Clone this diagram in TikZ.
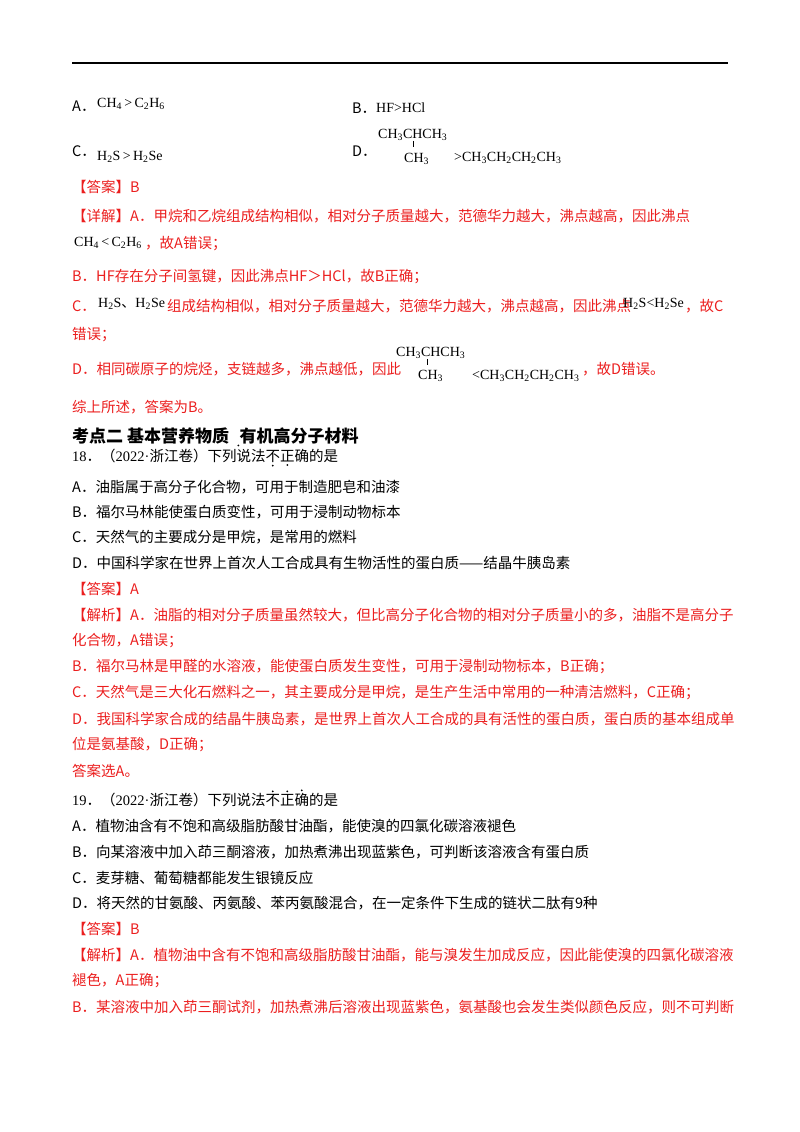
\documentclass[tikz,border=0pt]{standalone}
\usepackage{fontspec}
\setmainfont{Noto Sans CJK SC}
\newfontfamily\lf{Liberation Serif}
\newfontfamily\cj{Noto Sans CJK SC}
\newcommand{\ssb}[1]{\textsubscript{#1}}
\newcommand{\emdot}[1]{\tikz[baseline=(w.base)]{\node[inner sep=0pt](w){#1};\fill ([yshift=-2.5pt]w.south) circle (1pt);}}
\newcommand{\updot}[1]{\tikz[baseline=(w.base)]{\node[inner sep=0pt](w){#1};\fill ([yshift=2.5pt]w.north) circle (1pt);}}
\definecolor{ansred}{RGB}{235,30,30}
\begin{document}
\begin{tikzpicture}[x=1pt,y=-1pt,
  t/.style={anchor=west,inner sep=0pt,font=\fontsize{14.5}{16}\selectfont},
  r/.style={t,text=ansred},
  f/.style={anchor=west,inner sep=0pt,font=\lf\fontsize{14}{16}\selectfont}]
\useasboundingbox (0,0) rectangle (800,1132);
\draw[line width=1.2pt] (72,63) -- (728,63);
% options
\node[t] (a) at (72,106) {A．};
\node[f] (af) at (97,104) {CH\ssb{4}\,>\,C\ssb{2}H\ssb{6}};
\node[t] (b) at (352,108) {B．};
\node[f] (bf) at (376,108) {HF>HCl};
\node[t] (c) at (72,151) {C．};
\node[f] (cf) at (97,157) {H\ssb{2}S\,>\,H\ssb{2}Se};
\node[t] (d) at (352,151) {D．};
\node[f] (d1) at (378,135) {CH\ssb{3}CHCH\ssb{3}};
\node[f] (d2) at (404,159) {CH\ssb{3}};
\draw (d1.south -| d2.north) ++(-3.5,0) -- ++(0,6);
\node[f] (d3) at (454,158) {>CH\ssb{3}CH\ssb{2}CH\ssb{2}CH\ssb{3}};
% answer
\node[r] (ans1) at (72,187) {【答案】B};
\node[r] (x1) at (72,216) {【详解】A．甲烷和乙烷组成结构相似，相对分子质量越大，范德华力越大，沸点越高，因此沸点};
\node[f] (x1f) at (74,243) {CH\ssb{4}\,<\,C\ssb{2}H\ssb{6}};
\node[r] (x1b) at (145,244) {，故A错误；};
\node[r] (x2) at (72,277) {B．HF存在分子间氢键，因此沸点HF＞HCl，故B正确；};
\node[r] (x3a) at (72,306) {C．};
\node[f] (x3f) at (98,304) {H\ssb{2}S{\cj 、}H\ssb{2}Se};
\node[r] (x3b) at (167,306) {组成结构相似，相对分子质量越大，范德华力越大，沸点越高，因此沸点};
\node[f] (x3g) at (623,304) {H\ssb{2}S<H\ssb{2}Se};
\node[r] (x3c) at (685,306) {，故C};
\node[r] (x4) at (72,335) {错误；};
\node[r] (x5) at (72,369) {D．相同碳原子的烷烃，支链越多，沸点越低，因此};
\node[f] (e1) at (396,353) {CH\ssb{3}CHCH\ssb{3}};
\node[f] (e2) at (418,376) {CH\ssb{3}};
\draw (e1.south -| e2.north) ++(-3.5,0) -- ++(0,6);
\node[f] (e3) at (472,376) {<CH\ssb{3}CH\ssb{2}CH\ssb{2}CH\ssb{3}};
\node[r] (x5b) at (582,369) {，故D错误。};
\node[r] (x6) at (72,407) {综上所述，答案为B。};
% section
\node[t,font=\bfseries\fontsize{17}{19}\selectfont] (h) at (72,437) {考点二\ 基本营养物质\ \ \emdot{\,}有机高分子材料};
\node[t] (q18) at (72,458) {{\lf 18}．（{\lf 2022·}浙江卷）下列说法\emdot{不}\emdot{正}确的是};
\node[t] (q18a) at (72,487) {A．油脂属于高分子化合物，可用于制造肥皂和油漆};
\node[t] (q18b) at (72,512) {B．福尔马林能使蛋白质变性，可用于浸制动物标本};
\node[t] (q18c) at (72,537) {C．天然气的主要成分是甲烷，是常用的燃料};
\node[t] (q18d) at (72,563) {D．中国科学家在世界上首次人工合成具有生物活性的蛋白质——结晶牛胰岛素};
\node[r] (a18) at (72,589) {【答案】A};
\node[r] (j1) at (72,615) {【解析】A．油脂的相对分子质量虽然较大，但比高分子化合物的相对分子质量小的多，油脂不是高分子};
\node[r] (j2) at (72,641) {化合物，A错误；};
\node[r] (j3) at (72,667) {B．福尔马林是甲醛的水溶液，能使蛋白质发生变性，可用于浸制动物标本，B正确；};
\node[r] (j4) at (72,693) {C．天然气是三大化石燃料之一，其主要成分是甲烷，是生产生活中常用的一种清洁燃料，C正确；};
\node[r] (j5) at (72,719) {D．我国科学家合成的结晶牛胰岛素，是世界上首次人工合成的具有活性的蛋白质，蛋白质的基本组成单};
\node[r] (j6) at (72,745) {位是氨基酸，D正确；};
\node[r] (j7) at (72,771) {答案选A。};
\node[t] (q19) at (72,798) {{\lf 19}．（{\lf 2022·}浙江卷）下列说法\updot{不}\updot{正}\updot{确}的是};
\node[t] (q19a) at (72,826) {A．植物油含有不饱和高级脂肪酸甘油酯，能使溴的四氯化碳溶液褪色};
\node[t] (q19b) at (72,852) {B．向某溶液中加入茚三酮溶液，加热煮沸出现蓝紫色，可判断该溶液含有蛋白质};
\node[t] (q19c) at (72,878) {C．麦芽糖、葡萄糖都能发生银镜反应};
\node[t] (q19d) at (72,903) {D．将天然的甘氨酸、丙氨酸、苯丙氨酸混合，在一定条件下生成的链状二肽有9种};
\node[r] (a19) at (72,929) {【答案】B};
\node[r] (k1) at (72,955) {【解析】A．植物油中含有不饱和高级脂肪酸甘油酯，能与溴发生加成反应，因此能使溴的四氯化碳溶液};
\node[r] (k2) at (72,981) {褪色，A正确；};
\node[r] (k3) at (72,1007) {B．某溶液中加入茚三酮试剂，加热煮沸后溶液出现蓝紫色，氨基酸也会发生类似颜色反应，则不可判断};
\end{tikzpicture}
\end{document}
